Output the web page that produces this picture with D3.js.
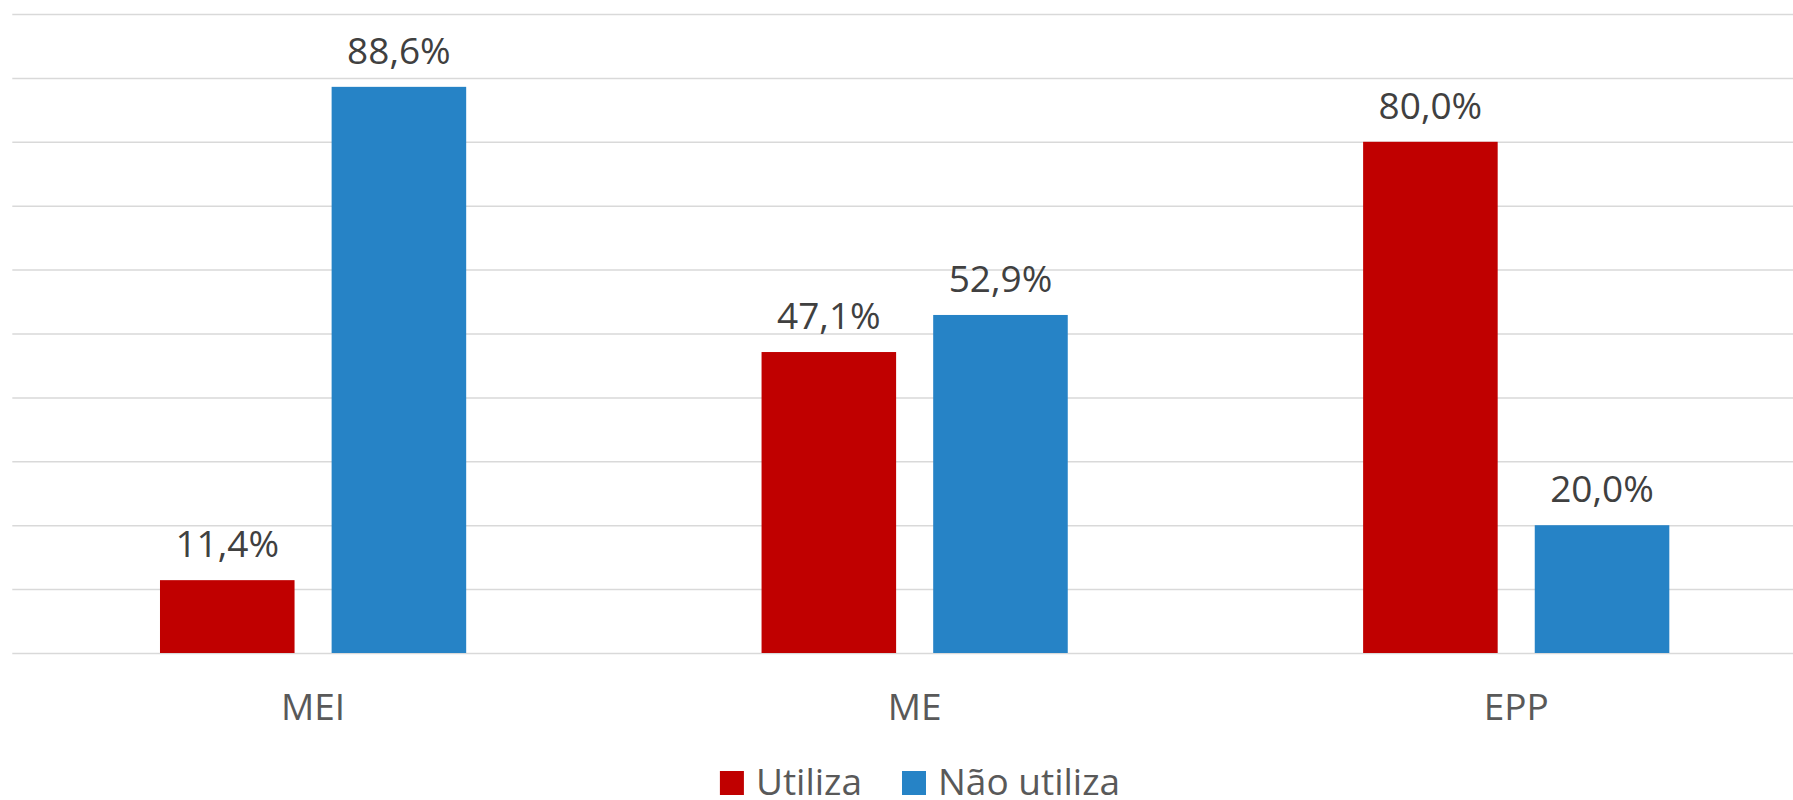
<!DOCTYPE html>
<html>
<head>
<meta charset="utf-8">
<script src="https://cdn.jsdelivr.net/npm/d3@7"></script>
<style>
    body { margin: 0; background: #ffffff; }
    svg { display: block; font-family: "Open Sans", sans-serif; }
</style>
</head>
<body>
<div class="myChart"></div>
<script>
//Data
var categories = ["MEI", "ME", "EPP"];
var seriesNames = ["Utiliza", "Não utiliza"];
var utiliza = [11.4, 47.1, 80.0];
var naoUtiliza = [88.6, 52.9, 20.0];
var yTicks = [0, 10, 20, 30, 40, 50, 60, 70, 80, 90, 100];
var colors = ["#c00000", "#2683c6"];

function run () {
    //Canvas Size
    var width = 1793;
    var height = 800;

    //Plot area (runs past the right edge, like the original)
    var plot = { left: 12.3, right: 1817, top: 14, bottom: 653 };

    //Number format with comma decimal
    var pt = d3.formatLocale({decimal: ",", thousands: ".", grouping: [3], currency: ["R$", ""]});
    var fmt = pt.format(".1f");

    var rows = categories.map(function(c, i) {
        return {cat: c, values: [utiliza[i], naoUtiliza[i]]};
    });

    //Scales
    var x0 = d3.scaleBand()
        .domain(categories)
        .range([plot.left, plot.right])
        .paddingInner(0.491)
        .paddingOuter(0.2455);
    var x1 = d3.scaleBand()
        .domain(d3.range(seriesNames.length))
        .range([0, x0.bandwidth()])
        .paddingInner(0.216)
        .paddingOuter(0);
    var yScale = d3.scaleLinear()
        .domain([0, 100])
        .range([plot.bottom, plot.top]);

    var svg = d3.select(".myChart").append("svg")
        .attr("width", width)
        .attr("height", height);

    //Gridlines
    var yAxis = d3.axisLeft(yScale)
        .tickValues(yTicks)
        .tickSize(-(plot.right - plot.left))
        .tickFormat("");
    var grid = svg.append("g")
        .attr("class", "grid")
        .attr("transform", "translate(" + plot.left + ",0)")
        .call(yAxis);
    grid.select(".domain").remove();
    grid.selectAll(".tick line")
        .attr("stroke", "#d9d9d9")
        .attr("stroke-width", 1.5);

    //Category axis
    var xAxis = d3.axisBottom(x0).tickSize(0).tickPadding(0);
    var xg = svg.append("g")
        .attr("transform", "translate(0," + plot.bottom + ")")
        .call(xAxis);
    xg.select(".domain").remove();
    xg.selectAll(".tick text")
        .attr("dy", null)
        .attr("y", 67)
        .attr("fill", "#595959")
        .style("font-size", "37px")
        .style("font-family", "'Open Sans', sans-serif");

    //Bars
    var groups = svg.selectAll(".group")
        .data(rows)
        .enter()
        .append("g")
        .attr("class", "group")
        .attr("transform", function(d) {return "translate(" + x0(d.cat) + ",0)";});

    groups.selectAll("rect")
        .data(function(d) {return d.values;})
        .enter()
        .append("rect")
        .attr("x", function(d, i) {return x1(i);})
        .attr("y", function(d) {return yScale(d);})
        .attr("width", x1.bandwidth())
        .attr("height", function(d) {return plot.bottom - yScale(d);})
        .attr("fill", function(d, i) {return colors[i];});

    //Value labels
    groups.selectAll(".label")
        .data(function(d) {return d.values;})
        .enter()
        .append("text")
        .attr("class", "label")
        .attr("x", function(d, i) {return x1(i) + x1.bandwidth() / 2;})
        .attr("y", function(d) {return yScale(d) - 23;})
        .attr("text-anchor", "middle")
        .attr("fill", "#404040")
        .style("font-size", "37px")
        .text(function(d) {return fmt(d) + "%";});

    //Legend
    var legend = svg.append("g").attr("class", "legend");
    var items = legend.selectAll(".item")
        .data(seriesNames)
        .enter()
        .append("g")
        .attr("class", "item");
    items.append("rect")
        .attr("width", 24)
        .attr("height", 24)
        .attr("y", 771)
        .attr("fill", function(d, i) {return colors[i];});
    items.append("text")
        .attr("x", 36)
        .attr("y", 795)
        .attr("fill", "#595959")
        .style("font-size", "37px")
        .text(function(d) {return d;});

    var offset = 0;
    var widths = [];
    items.each(function() {
        widths.push(d3.select(this).select("text").node().getComputedTextLength() + 36);
    });
    var total = d3.sum(widths) + 40 * (widths.length - 1);
    offset = 920 - total / 2;
    items.attr("transform", function(d, i) {
        var t = "translate(" + offset + ",0)";
        offset += widths[i] + 40;
        return t;
    });
}

run();
</script>
</body>
</html>
